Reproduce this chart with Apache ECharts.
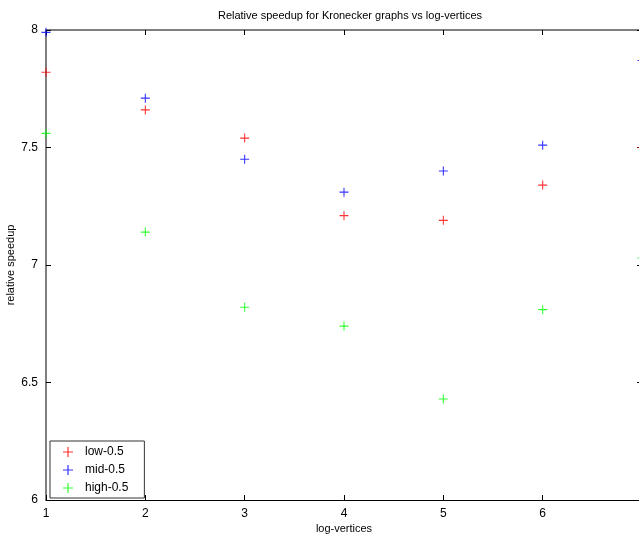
<!DOCTYPE html>
<html><head><meta charset="utf-8">
<script src="https://cdn.jsdelivr.net/npm/echarts@6/dist/echarts.min.js"></script>
<style>html,body{margin:0;padding:0;background:#fff}#c{width:639px;height:540px}</style>
</head><body><div id="c"></div>
<script>
const xVals = [1, 2, 3, 4, 5, 6, 7];
const low05 = [7.82, 7.66, 7.54, 7.21, 7.19, 7.34, 7.50];
const mid05 = [7.99, 7.71, 7.45, 7.31, 7.40, 7.51, 7.87];
const high05 = [7.56, 7.14, 6.82, 6.74, 6.43, 6.81, 7.03];
const seriesNames = ['low-0.5', 'mid-0.5', 'high-0.5'];
const colors = ['#ff0000', '#0000ff', '#00ff00'];
const plus = 'path://M4.4,0H5.6V4.4H10V5.6H5.6V10H4.4V5.6H0V4.4H4.4Z';
const font = 'Arial, "Liberation Sans", sans-serif';
const toPairs = arr => xVals.map((x, i) => [x, arr[i]]);
const allData = [low05, mid05, high05];
const chart = echarts.init(document.getElementById('c'));
chart.setOption({
  animation: false,
  backgroundColor: '#fff',
  title: {text: 'Relative speedup for Kronecker graphs vs log-vertices', left: 345, textAlign: 'center', top: 5,
    textStyle: {fontFamily: font, fontSize: 11, fontWeight: 'normal', color: '#000'}},
  grid: {left: 46, top: 30, right: -3, bottom: 40, containLabel: false, outerBoundsMode: 'none'},
  legend: {orient: 'vertical', left: 50, bottom: 42, itemWidth: 10, itemHeight: 10, itemGap: 6,
    padding: [5, 16, 4, 13], borderColor: '#333', borderWidth: 1, backgroundColor: '#fff',
    textStyle: {fontFamily: font, fontSize: 12, color: '#000', padding: [0, 0, 0, 7]},
    data: seriesNames.map((n, i) => ({name: n, icon: plus, itemStyle: {color: colors[i]}}))},
  xAxis: [
    {type: 'value', min: 1, max: 7, interval: 1, position: 'bottom', name: 'log-vertices', nameLocation: 'middle', nameGap: 23,
      nameMoveOverlap: false,
      nameTextStyle: {fontFamily: font, fontSize: 11, color: '#000'},
      axisLine: {lineStyle: {color: '#000', width: 1}},
      axisTick: {inside: true, length: 5, lineStyle: {color: '#000'}},
      axisLabel: {fontFamily: font, fontSize: 12, color: '#000', margin: 8},
      splitLine: {show: false}},
    {type: 'value', min: 1, max: 7, interval: 1, position: 'top',
      axisLine: {lineStyle: {color: '#555', width: 1.5}},
      axisTick: {inside: true, length: 5, lineStyle: {color: '#000'}},
      axisLabel: {show: false}, splitLine: {show: false}}
  ],
  yAxis: [
    {type: 'value', min: 6, max: 8, interval: 0.5, position: 'left', name: 'relative speedup', nameLocation: 'middle', nameGap: 30,
      nameMoveOverlap: false,
      nameTextStyle: {fontFamily: font, fontSize: 11, color: '#000'},
      axisLine: {lineStyle: {color: '#555', width: 1.5}},
      axisTick: {inside: true, length: 5, lineStyle: {color: '#000'}},
      axisLabel: {fontFamily: font, fontSize: 12, color: '#000', margin: 8},
      splitLine: {show: false}},
    {type: 'value', min: 6, max: 8, interval: 0.5, position: 'right',
      axisLine: {lineStyle: {color: '#000'}},
      axisTick: {inside: true, length: 5, lineStyle: {color: '#000'}},
      axisLabel: {show: false}, splitLine: {show: false}}
  ],
  series: seriesNames.map((n, i) => ({
    name: n, type: 'scatter', symbol: plus, symbolSize: 9, clip: false,
    itemStyle: {color: colors[i]}, data: toPairs(allData[i])
  }))
});
</script></body></html>
